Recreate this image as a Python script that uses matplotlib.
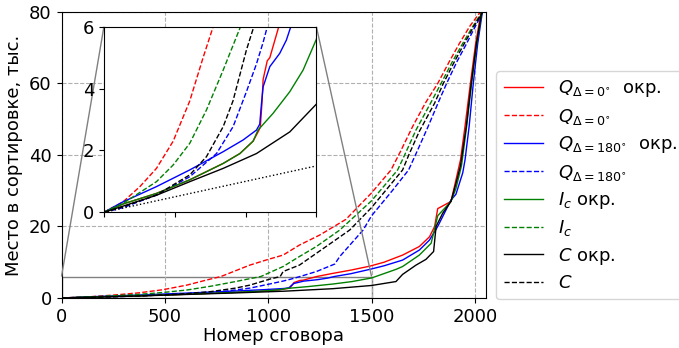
import matplotlib.pyplot as plt
from mpl_toolkits.axes_grid1.inset_locator import mark_inset

# place in sorting (thousands) vs. collusion index; "окр." = rounded
q0r_x = [0, 136, 371, 606, 842, 960, 1053, 1088, 1104, 1115, 1124, 1153, 1171, 1234, 1314, 1400, 1491, 1560,
         1650, 1731, 1780, 1805, 1820, 1884, 1908, 1930, 1952, 1978, 2003, 2030, 2048]
q0r_y = [0, 0.27, 0.61, 1.05, 1.58, 1.9, 2.3, 2.6, 2.75, 3.5, 4.3, 4.9, 5.0, 6.0, 6.9, 7.8, 8.9, 10.0,
         12.0, 14.4, 17.1, 20.0, 25.0, 27.0, 33.0, 38.6, 48.0, 60.0, 71.0, 80.0, 85.0]

q0_x = [0, 136, 254, 371, 489, 606, 700, 771, 911, 1000, 1072, 1151, 1249, 1376, 1500, 1594, 1640, 1699,
        1760, 1820, 1875, 1925, 1975, 2021, 2048]
q0_y = [0, 0.34, 0.83, 1.42, 2.3, 3.6, 5.0, 6.0, 9.2, 10.8, 12.0, 14.8, 17.6, 22.0, 29.4, 35.8, 41.0, 48.0,
        54.5, 60.0, 66.0, 71.2, 76.0, 79.6, 82.0]

q180r_x = [0, 136, 371, 606, 842, 983, 1077, 1100, 1112, 1124, 1171, 1241, 1288, 1319, 1400, 1491, 1560,
           1650, 1731, 1780, 1820, 1884, 1908, 1941, 1952, 1972, 1992, 2013, 2036, 2048]
q180r_y = [0, 0.34, 0.83, 1.37, 1.96, 2.34, 2.66, 2.85, 3.5, 4.06, 4.71, 5.14, 5.57, 6.0, 6.8, 8.0, 9.0,
           10.6, 13.4, 16.2, 20.0, 27.4, 29.0, 35.0, 38.6, 48.0, 60.0, 71.0, 80.0, 84.0]

q180_x = [0, 136, 371, 606, 795, 912, 1006, 1077, 1124, 1159, 1233, 1322, 1346, 1459, 1500, 1600, 1679,
          1720, 1770, 1828, 1863, 1912, 1960, 2002, 2035, 2048]
q180_y = [0, 0.15, 0.56, 1.15, 1.9, 2.77, 3.9, 4.8, 5.5, 6.1, 7.4, 9.5, 11.6, 19.0, 23.0, 30.0, 35.8,
          41.0, 47.5, 55.4, 60.0, 66.0, 71.2, 76.0, 79.6, 82.0]

icr_x = [0, 136, 371, 606, 842, 960, 1053, 1088, 1194, 1312, 1406, 1500, 1618, 1650, 1731, 1788, 1820,
         1884, 1908, 1935, 1960, 1984, 2008, 2034, 2048]
icr_y = [0, 0.27, 0.61, 1.05, 1.58, 1.9, 2.3, 2.66, 3.2, 3.9, 4.6, 5.6, 8.0, 8.8, 12.0, 15.3, 23.0,
         27.0, 30.6, 37.0, 48.0, 60.0, 71.0, 80.0, 85.0]

ic_x = [0, 136, 371, 489, 606, 724, 842, 964, 1072, 1151, 1233, 1346, 1500, 1626, 1660, 1715, 1790,
        1836, 1890, 1941, 1990, 2030, 2048]
ic_y = [0, 0.29, 0.99, 1.53, 2.23, 3.31, 4.6, 6.0, 8.8, 11.6, 14.4, 19.0, 27.2, 35.8, 40.0, 47.0, 55.0,
        60.0, 66.0, 71.2, 76.0, 79.6, 82.0]

cr_x = [0, 136, 371, 606, 842, 1077, 1312, 1500, 1618, 1650, 1715, 1763, 1800, 1812, 1844, 1884, 1908,
        1930, 1958, 1982, 2007, 2033, 2048]
cr_y = [0, 0.2, 0.55, 0.99, 1.42, 1.9, 2.6, 3.5, 4.6, 6.6, 9.2, 10.8, 13.0, 20.0, 23.7, 27.0, 32.0,
        37.0, 48.0, 60.0, 71.0, 80.0, 85.0]

c_x = [0, 136, 371, 606, 724, 842, 911, 1006, 1058, 1072, 1151, 1233, 1394, 1500, 1650, 1680, 1730,
       1805, 1847, 1900, 1949, 1995, 2033, 2048]
c_y = [0, 0.18, 0.56, 1.21, 1.8, 2.77, 3.6, 5.25, 6.0, 7.4, 9.2, 12.5, 19.0, 25.3, 35.8, 40.0, 46.5,
       54.5, 60.0, 66.0, 71.2, 76.0, 79.6, 82.0]

# reference line shown only in the zoomed inset
ref_x = [0, 1500]
ref_y = [0, 1.5]

series = [
    (q0r_x, q0r_y, 'red', '-', r'$Q_{\Delta=0^{\circ}}$  окр.'),
    (q0_x, q0_y, 'red', '--', r'$Q_{\Delta=0^{\circ}}$'),
    (q180r_x, q180r_y, 'blue', '-', r'$Q_{\Delta=180^{\circ}}$  окр.'),
    (q180_x, q180_y, 'blue', '--', r'$Q_{\Delta=180^{\circ}}$'),
    (icr_x, icr_y, 'green', '-', r'$I_c$ окр.'),
    (ic_x, ic_y, 'green', '--', r'$I_c$'),
    (cr_x, cr_y, 'black', '-', r'$C$ окр.'),
    (c_x, c_y, 'black', '--', r'$C$'),
]

plt.rcParams['font.size'] = 13

fig = plt.figure(figsize=(6.79, 3.48), dpi=100)
ax = fig.add_axes([0.0906, 0.1437, 0.6247, 0.822])
for xs, ys, color, ls, label in series:
    ax.plot(xs, ys, color=color, linestyle=ls, linewidth=1, label=label)

ax.set_xlim(0, 2052)
ax.set_ylim(0, 80)
ax.set_xticks([0, 500, 1000, 1500, 2000])
ax.set_yticks([0, 20, 40, 60, 80])
ax.grid(True, linestyle='--', color='#b0b0b0', linewidth=0.8)
ax.set_xlabel('Номер сговора', labelpad=1)
ax.set_ylabel('Место в сортировке, тыс.')
ax.legend(loc='lower left', bbox_to_anchor=(1.025, -0.005), fontsize=13, handlelength=2.2,
          labelspacing=0.41, borderaxespad=0)

axins = fig.add_axes([0.153, 0.39, 0.313, 0.533])
for xs, ys, color, ls, label in series:
    axins.plot(xs, ys, color=color, linestyle=ls, linewidth=1)
axins.plot(ref_x, ref_y, color='black', linestyle=':', linewidth=1)
axins.set_xlim(0, 1500)
axins.set_ylim(0, 6)
axins.set_xticks([0, 500, 1000, 1500])
axins.set_xticklabels([])
axins.set_yticks([0, 2, 4, 6])
mark_inset(ax, axins, loc1=2, loc2=1, fc='none', ec='0.5')

fig.savefig('out.png', dpi=100)
